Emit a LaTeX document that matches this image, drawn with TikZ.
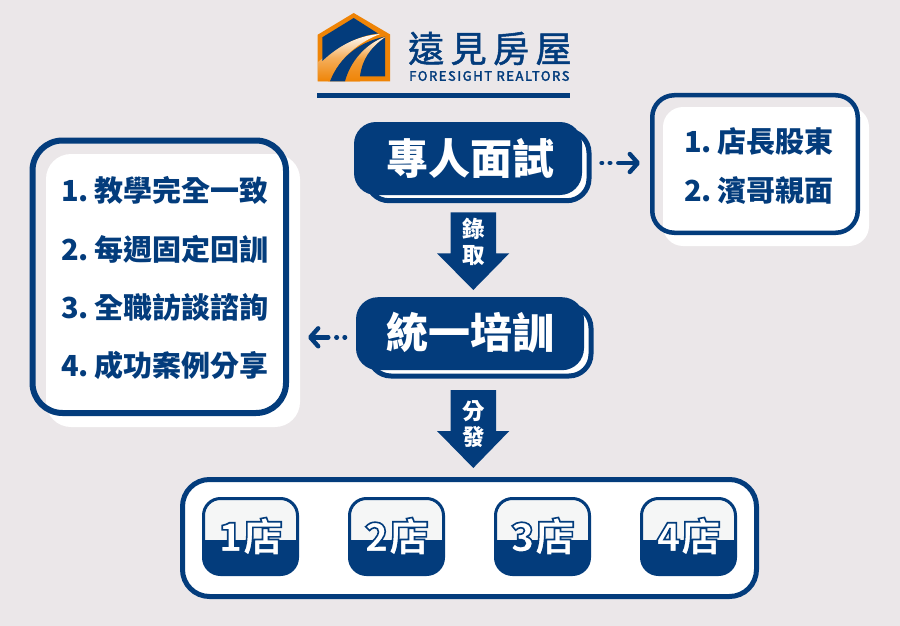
\documentclass[tikz,border=0pt]{standalone}
\usepackage{fontspec}
\usepackage{xcolor}
\setmainfont{Noto Sans CJK TC}
\newfontfamily\logofont{Noto Sans CJK TC}[LetterSpace=18]
\newfontfamily\logolatin{Noto Sans CJK TC}[LetterSpace=12]
\usetikzlibrary{arrows.meta}

\definecolor{paper}{HTML}{EBE7E9}
\definecolor{navy}{HTML}{033C7C}
\definecolor{storelight}{HTML}{F5F6F6}
\definecolor{logoorange}{HTML}{EF8406}

\newcommand{\outlined}[2]{\special{pdf:code 2 Tr #1 w 0.012 0.235 0.486 RG}#2\special{pdf:code 0 Tr 1 w}}

\tikzset{
	textline/.style={node font=\fontsize{#1}{#1}\selectfont\bfseries, inner sep=0pt, text height=.88em, text depth=.12em, execute at begin node={\spaceskip=3.4pt\relax}},
	front/.style={fill=navy, rounded corners=22pt, minimum width=228pt, minimum height=73pt, inner sep=0pt, text=white, font=\fontsize{42}{42}\selectfont\bfseries},
	back/.style={draw=navy, fill=white, line width=5pt, rounded corners=22pt, minimum width=222pt, minimum height=70pt},
	shadow/.style={fill=white, rounded corners=#1, inner sep=0pt},
	outline/.style={draw=navy, rounded corners=#1, inner sep=0pt},
	listtext/.style={textline=29, text=navy, anchor=west},
	arrowtext/.style={textline=22.5, text=white},
	dotarrow/.style={draw=navy, line width=4.4pt, line cap=round, dash pattern=on 0.6pt off 7.6pt on 0.6pt off 8pt on 60pt, -{Straight Barb[length=8pt,width=18pt,line width=4.4pt,round]}},
	store/.style={draw=navy, fill=storelight, line width=3pt, rounded corners=17pt, minimum width=94pt, minimum height=76pt, inner sep=0pt, text=white, font=\fontsize{40}{40}\selectfont\bfseries,
		path picture={\fill[navy, sharp corners] ([yshift=-3.5pt]path picture bounding box.west) rectangle (path picture bounding box.south east);}}
}

\begin{document}
\begin{tikzpicture}[x=1pt,y=-1pt]
	\useasboundingbox[fill=paper] (0,0) rectangle (900,626);

	% logo
	\fill[logoorange] (353.7,13) -- (317.7,34.7) -- (317.7,81.3) -- (390,81.3) -- (390,34.4) -- cycle;
	\shade[top color=white, bottom color=logoorange, middle color=logoorange!65!white] (318,81) -- (318,62) .. controls (335,48) and (355,36) .. (380,34) .. controls (360,42) and (340,56) .. (330,81.3) -- cycle;
	\shade[top color=white, bottom color=logoorange, middle color=logoorange!80!white] (345,81.3) .. controls (350,62) and (365,44) .. (385,37) .. controls (370,48) and (362,60) .. (360,76.3) -- (360,81.3) -- cycle;
	\fill[navy] (353.7,18) -- (322.3,37.3) -- (322.3,61) .. controls (338,46) and (357,36) .. (378,33.5) -- cycle;
	\fill[navy] (330,81.3) .. controls (340,56) and (360,42) .. (385,36.5) .. controls (365,44) and (350,62) .. (345,81.3) -- cycle;
	\fill[navy] (385,37.5) -- (385,76.3) -- (360,76.3) .. controls (362,60) and (370,48) .. cycle;
	\node[anchor=west, inner sep=0pt, text=navy] (logoname) at (408,48.5) {\fontsize{36}{36}\logofont\outlined{0.5}{遠見房屋}};
	\node[anchor=west, inner sep=0pt, text=navy] (logolatin) at (409,76) {\fontsize{13}{13}\logolatin\outlined{0.3}{FORESIGHT REALTORS}};
	\fill[navy] (316.5,93) rectangle (570,98);

	% left list
	\node[shadow=25pt, minimum width=254pt, minimum height=273pt] (listshadow) at (173,290.5) {};
	\node[outline=30pt, line width=6pt, minimum width=253.5pt, minimum height=272.5pt] (listbox) at (159.25,276.75) {};
	\node[listtext] (list1) at (61,190) {1. 教學完全一致};
	\node[listtext] (list2) at (61,249) {2. 每週固定回訓};
	\node[listtext] (list3) at (61,307.5) {3. 全職訪談諮詢};
	\node[listtext] (list4) at (61,365.5) {4. 成功案例分享};

	% right list
	\node[shadow=20pt, minimum width=206pt, minimum height=139pt] (ownershadow) at (766,176.5) {};
	\node[outline=22pt, line width=4.5pt, minimum width=205.5pt, minimum height=137.5pt] (ownerbox) at (755,164) {};
	\node[listtext] (owner1) at (684,141) {1. 店長股東};
	\node[listtext] (owner2) at (684,190) {2. 濱哥親面};

	% main boxes
	\node[back] (interviewback) at (478,165.7) {};
	\node[front] (interview) at (468,158.5) {\hspace*{5pt}專人面試};
	\node[back] (trainingback) at (480,341) {};
	\node[front, text depth=6pt] (training) at (470,333.7) {統一培訓};

	% block arrows
	\fill[navy] (450.7,212.3) -- (496,212.3) -- (496,253.3) -- (509.3,253.3) -- (473.3,290) -- (437,253.3) -- (450.7,253.3) -- cycle;
	\node[arrowtext] (hire1) at (473.3,229) {錄};
	\node[arrowtext] (hire2) at (473.3,255) {取};
	\fill[navy] (450.7,390) -- (496,390) -- (496,431) -- (509.3,431) -- (473.3,468) -- (437,431) -- (450.7,431) -- cycle;
	\node[arrowtext] (split1) at (473.3,411) {分};
	\node[arrowtext] (split2) at (473.3,436.5) {發};

	% dotted arrows
	\coordinate (traintip) at (308,337.3);
	\draw[dotarrow] ([shift={(10pt,2.7pt)}]interviewback.east) -- ([shift={(-10pt,1pt)}]ownerbox.west);
	\draw[dotarrow] ([shift={(-10.7pt,-3.6pt)}]training.west) -- (traintip);

	% stores
	\node[draw=navy, fill=white, line width=5pt, rounded corners=27pt, minimum width=574pt, minimum height=117pt] (storebox) at (469.5,538) {};
	\foreach \n/\x in {1/250.5, 2/396.5, 3/542.5, 4/688.5}
		\node[store] (store\n) at (\x,536.5) {\outlined{1.6}{{\n}店}};
\end{tikzpicture}
\end{document}
